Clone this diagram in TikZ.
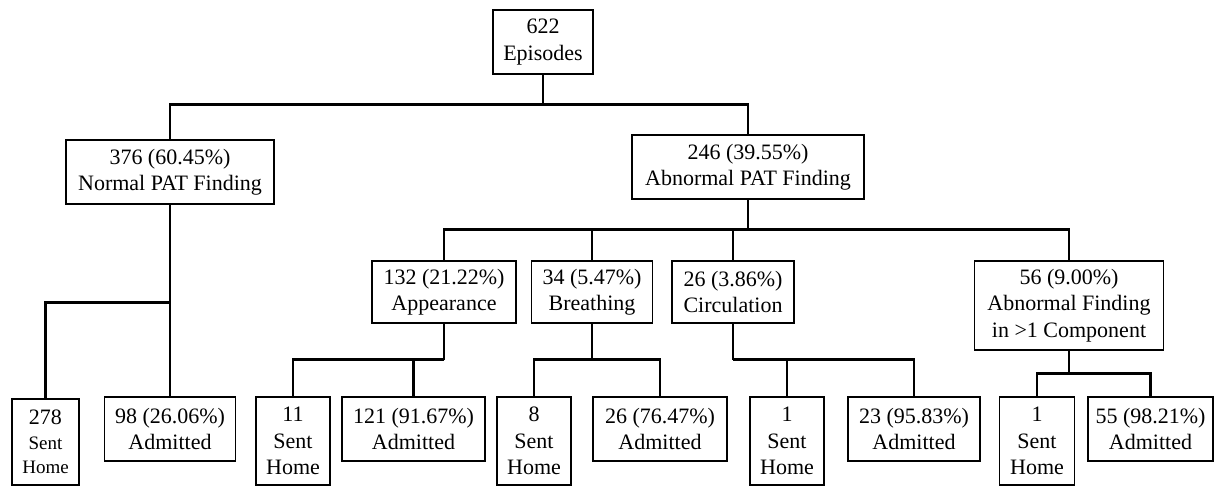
\documentclass[tikz,border=0pt]{standalone}
\usepackage{fontspec}
\setmainfont{Liberation Serif}
\usepackage{tikz}
\usetikzlibrary{positioning, calc}
\newcommand{\smallLine}[1]{{\fontsize{19}{24.5}\selectfont #1}}
\tikzset{
  countNode/.style={
    draw=black,
    line width=1.6pt,
    align=center,
    inner sep=2pt,
    font=\fontsize{22}{26.5}\selectfont
  },
  smallCount/.style={countNode, font=\fontsize{22}{24.5}\selectfont},
  treeLink/.style={draw=black, line width=2.8pt}
}

\begin{document}
\begin{tikzpicture}[x=1pt, y=1pt]
  \useasboundingbox (0,0) rectangle (1214,-486);

  % top levels
  \node[countNode, minimum width=100, minimum height=64] (episodes) at (543,-42) {622\\Episodes};
  \node[countNode, minimum width=208, minimum height=64] (normal) at (170,-172) {376 (60.45\%)\\Normal PAT Finding};
  \node[countNode, minimum width=232, minimum height=64] (abnormal) at (748,-167) {246 (39.55\%)\\Abnormal PAT Finding};

  % PAT components
  \node[countNode, minimum width=144, minimum height=62] (appearance) at (444,-292) {132 (21.22\%)\\Appearance};
  \node[countNode, minimum width=121, minimum height=62] (breathing) at (592,-292) {34 (5.47\%)\\Breathing};
  \node[countNode, minimum width=122, minimum height=62] (circulation) at (733,-292) {26 (3.86\%)\\Circulation};
  \node[countNode, minimum width=189, minimum height=89] (multi) at (1069,-305.5) {56 (9.00\%)\\Abnormal Finding\\in >1 Component};

  % outcomes
  \node[smallCount, minimum width=67, minimum height=86] (normalHome) at (45.5,-442) {278\\\smallLine{Sent}\\\smallLine{Home}};
  \node[countNode, minimum width=131, minimum height=64] (normalAdm) at (170,-429) {98 (26.06\%)\\Admitted};
  \node[countNode, minimum width=74, minimum height=88] (appHome) at (293,-441) {11\\Sent\\Home};
  \node[countNode, minimum width=143, minimum height=64] (appAdm) at (413.5,-429) {121 (91.67\%)\\Admitted};
  \node[countNode, minimum width=74, minimum height=88] (breHome) at (534,-441) {8\\Sent\\Home};
  \node[countNode, minimum width=134, minimum height=64] (breAdm) at (660,-429) {26 (76.47\%)\\Admitted};
  \node[countNode, minimum width=74, minimum height=88] (cirHome) at (787,-441) {1\\Sent\\Home};
  \node[countNode, minimum width=132, minimum height=64] (cirAdm) at (914,-429) {23 (95.83\%)\\Admitted};
  \node[countNode, minimum width=75, minimum height=88] (mulHome) at (1037,-441) {1\\Sent\\Home};
  \node[countNode, minimum width=125, minimum height=64] (mulAdm) at (1150.5,-429) {55 (98.21\%)\\Admitted};

  % connectors
  \draw[treeLink] (episodes.south) -- ++(0,-30) coordinate (episodesBus);
  \draw[treeLink] (episodesBus) -| (normal.north);
  \draw[treeLink] (episodesBus) -| (abnormal.north);

  \draw[treeLink] (abnormal.south) -- ++(0,-30) coordinate (abnormalBus);
  \draw[treeLink] (abnormalBus) -| (appearance.north);
  \draw[treeLink] (abnormalBus) -| (breathing.north);
  \draw[treeLink] (abnormalBus) -| (circulation.north);
  \draw[treeLink] (abnormalBus) -| (multi.north);

  \draw[treeLink] (normal.south) -- ++(0,-98) coordinate (normalBus);
  \draw[treeLink] (normalBus) -| (normalHome.north);
  \draw[treeLink] (normalBus) -- (normalAdm.north);

  \draw[treeLink] (appearance.south) -- ++(0,-36) coordinate (appearanceBus);
  \draw[treeLink] (appearanceBus) -| (appHome.north);
  \draw[treeLink] (appearanceBus) -| (appAdm.north);

  \draw[treeLink] (breathing.south) -- ++(0,-36) coordinate (breathingBus);
  \draw[treeLink] (breathingBus) -| (breHome.north);
  \draw[treeLink] (breathingBus) -| (breAdm.north);

  \draw[treeLink] (circulation.south) -- ++(0,-36) coordinate (circulationBus);
  \draw[treeLink] (circulationBus) -| (cirHome.north);
  \draw[treeLink] (circulationBus) -| (cirAdm.north);

  \draw[treeLink] (multi.south) -- ++(0,-23) coordinate (multiBus);
  \draw[treeLink] (multiBus) -| (mulHome.north);
  \draw[treeLink] (multiBus) -| (mulAdm.north);
\end{tikzpicture}
\end{document}
